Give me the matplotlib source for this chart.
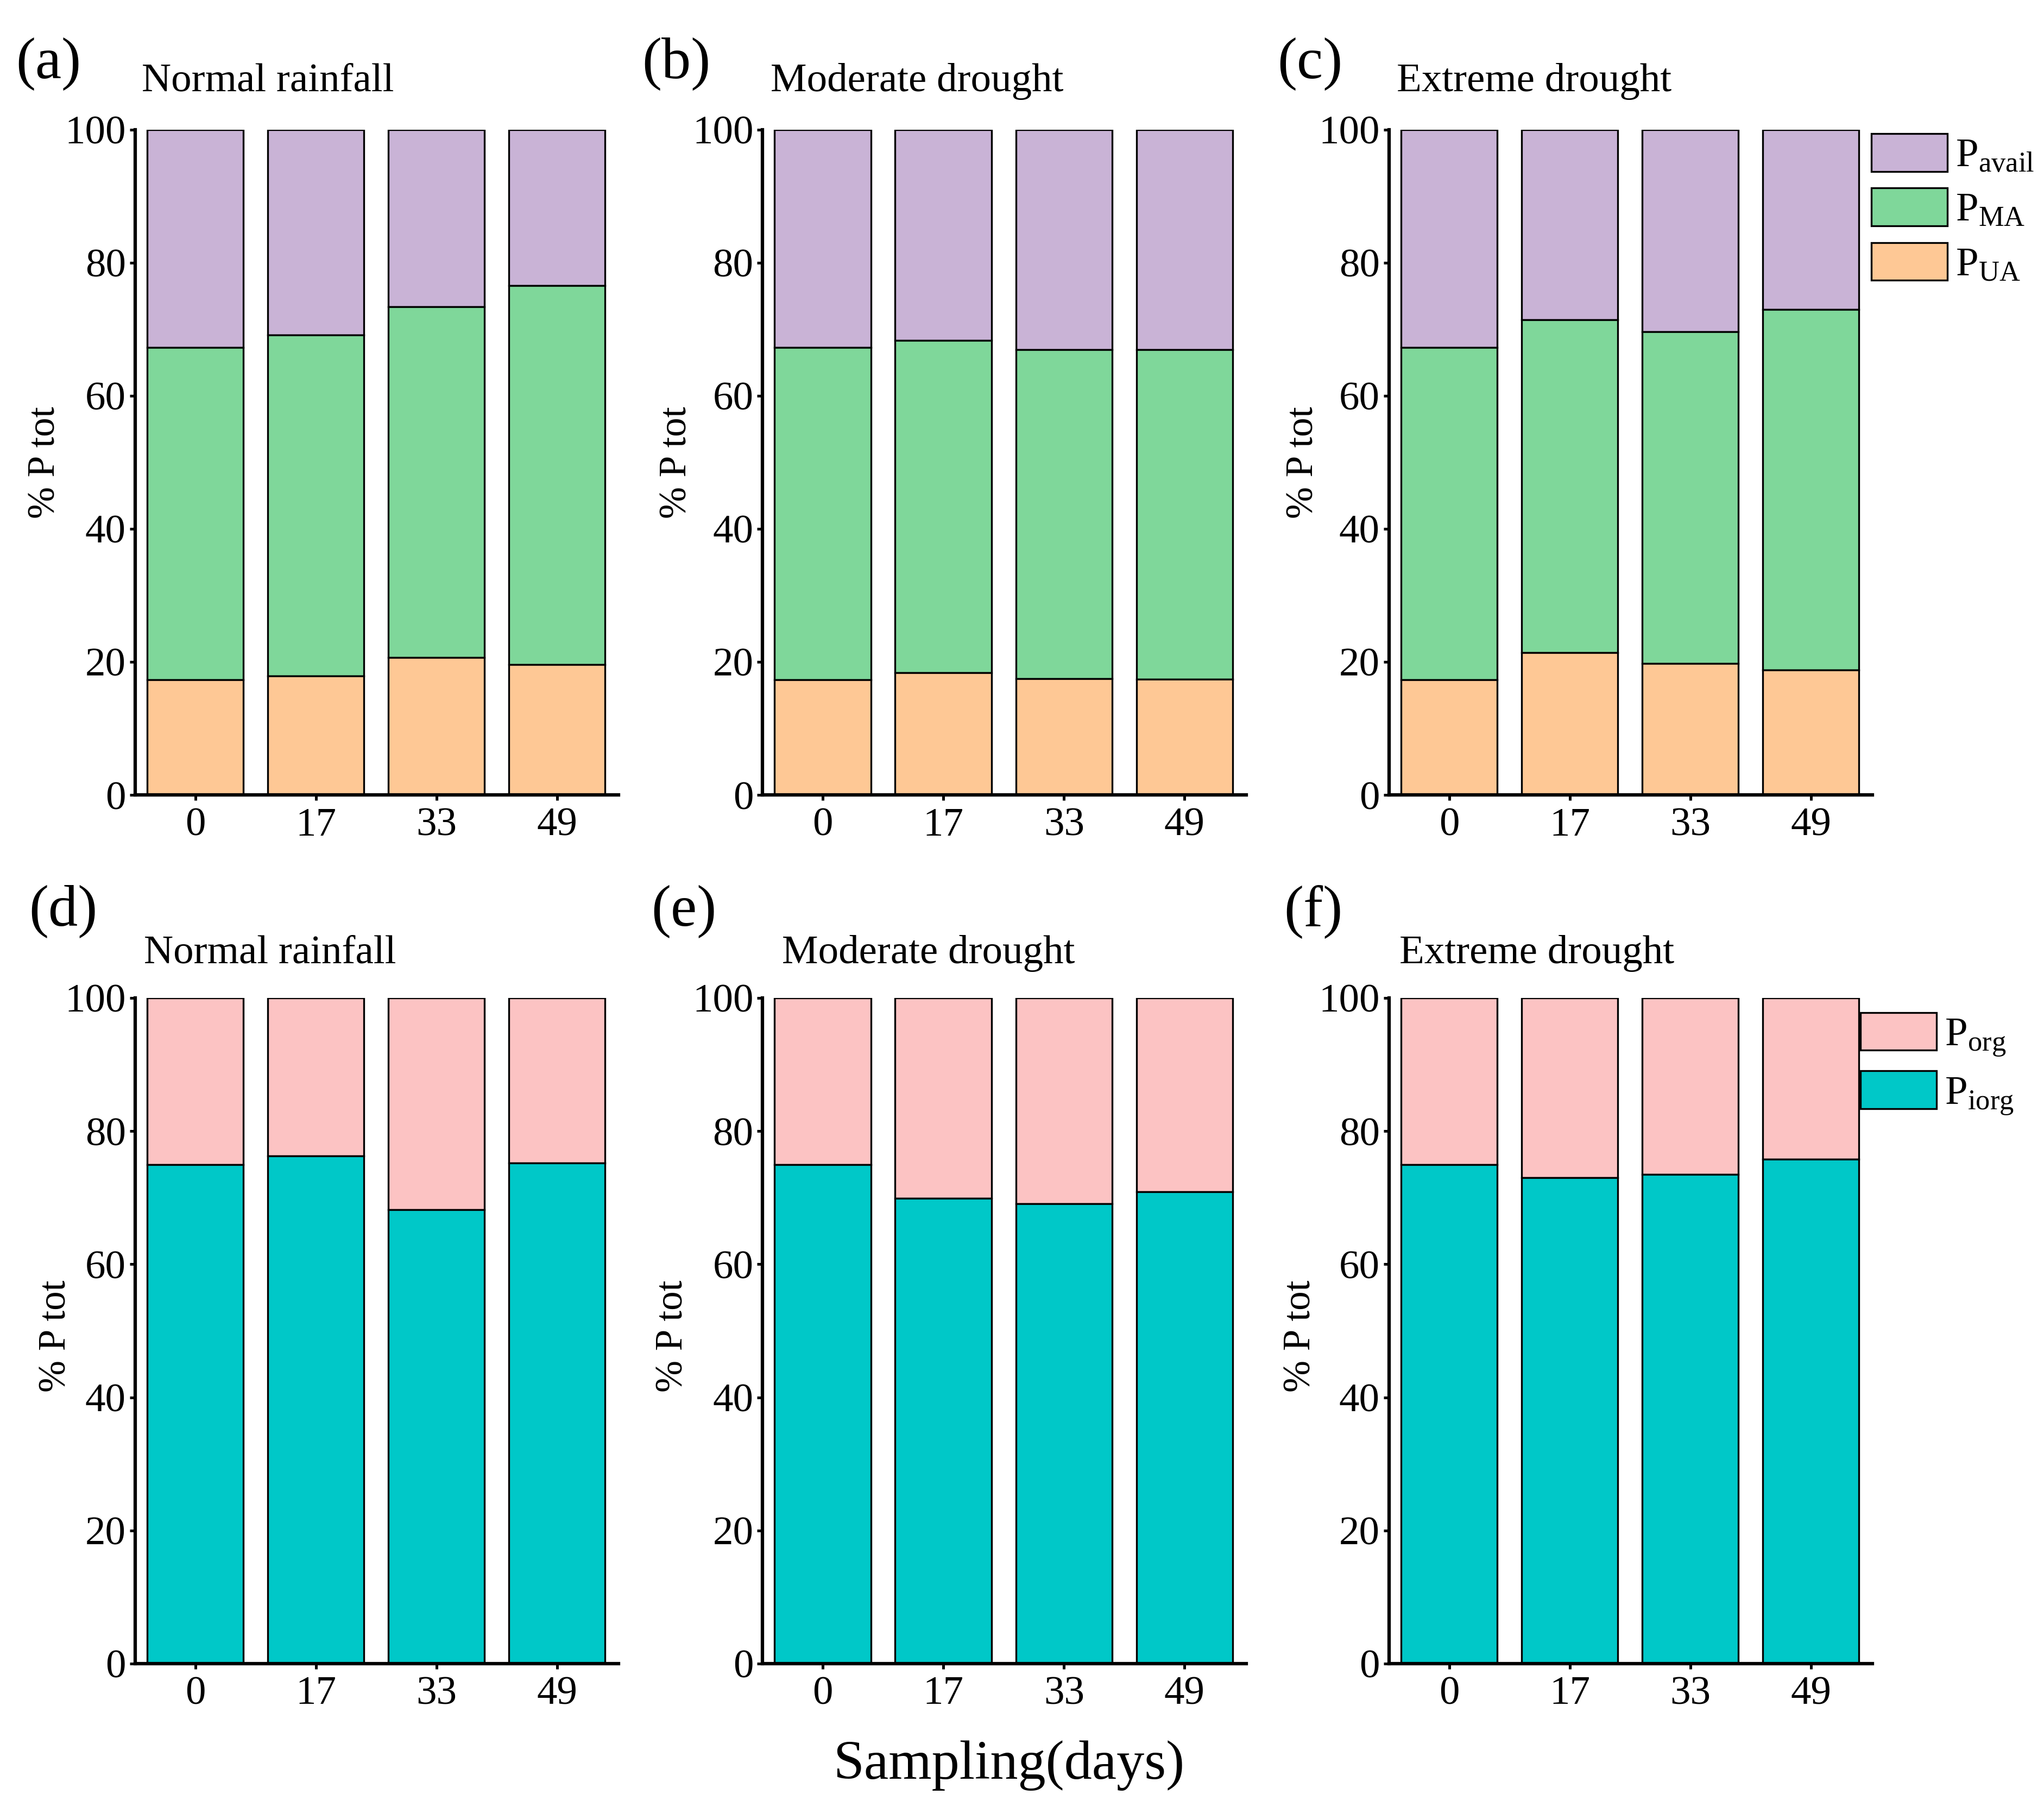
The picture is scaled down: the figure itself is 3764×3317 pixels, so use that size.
import matplotlib
matplotlib.use("Agg")
import matplotlib.pyplot as plt
import numpy as np

plt.rcParams['font.family'] = ['Liberation Serif', 'DejaVu Serif']
plt.rcParams['mathtext.fontset'] = 'custom'
plt.rcParams['mathtext.rm'] = 'Liberation Serif'
plt.rcParams['mathtext.it'] = 'Liberation Serif:italic'

# ---------------- data ----------------
days = ["0", "17", "33", "49"]
conditions = ["Normal rainfall", "Moderate drought", "Extreme drought"]

# top row: P fractions (% of total P)
p_ua_normal = [17.3, 17.9, 20.7, 19.6]
p_ma_normal = [50.0, 51.2, 52.7, 57.0]
p_ua_moderate = [17.3, 18.4, 17.5, 17.4]
p_ma_moderate = [50.0, 49.9, 49.4, 49.5]
p_ua_extreme = [17.3, 21.4, 19.8, 18.8]
p_ma_extreme = [50.0, 50.0, 49.8, 54.2]

# bottom row: inorganic P (% of total P); organic = remainder
p_iorg_normal = [75.0, 76.3, 68.2, 75.2]
p_iorg_moderate = [75.0, 69.9, 69.1, 70.9]
p_iorg_extreme = [75.0, 73.0, 73.5, 75.8]

panel_labels_top = ["(a)", "(b)", "(c)"]
panel_labels_bottom = ["(d)", "(e)", "(f)"]
legend_top = [r"$\mathrm{P_{avail}}$", r"$\mathrm{P_{MA}}$", r"$\mathrm{P_{UA}}$"]
legend_bottom = [r"$\mathrm{P_{org}}$", r"$\mathrm{P_{iorg}}$"]

# ---------------- style ----------------
c_avail = "#C9B3D6"
c_ma = "#7FD79A"
c_ua = "#FEC895"
c_org = "#FCC3C3"
c_iorg = "#00C8C8"

W, H = 1560.0, 1375.0
def fx(p): return p / W
def fy(p): return 1 - p / H

fig = plt.figure(figsize=(3764 / 300, 3317 / 300), dpi=300)

col_left = [103, 582, 1060]
ax_w = 369
row_top = [99, 762]
ax_h = 508

def style_axes(ax):
    for s in ["top", "right"]:
        ax.spines[s].set_visible(False)
    for s in ["left", "bottom"]:
        ax.spines[s].set_linewidth(1.5)
    ax.set_xlim(-0.5, 3.51)
    ax.set_ylim(0, 100)
    ax.set_yticks([0, 20, 40, 60, 80, 100])
    ax.set_xticks(range(len(days)))
    ax.set_xticklabels(days)
    ax.tick_params(axis="y", length=2.5, width=1.2, pad=1.5, labelsize=18)
    ax.tick_params(axis="x", length=2.5, width=1.2, pad=3, labelsize=18)
    ax.set_ylabel("% P tot", fontsize=17)

x = np.arange(len(days))
bw = 0.8
ek = dict(edgecolor="black", linewidth=0.8)

top_data = [(p_ua_normal, p_ma_normal), (p_ua_moderate, p_ma_moderate), (p_ua_extreme, p_ma_extreme)]
bottom_data = [p_iorg_normal, p_iorg_moderate, p_iorg_extreme]

top_title_x = [108, 588, 1066]
top_label_x = [12, 490, 975]
top_ylab_x = [48, 530, 1008]
bot_title_x = [110, 597, 1068]
bot_label_x = [22, 497, 980]
bot_ylab_x = [56, 527, 1006]

leg_kw = dict(loc="upper left", frameon=False, fontsize=18, borderpad=0, borderaxespad=0,
              handlelength=1.87, handleheight=1.05, handletextpad=0.2, labelspacing=0.32)

axes_top = []
for i, (ua, ma) in enumerate(top_data):
    ax = fig.add_axes([fx(col_left[i]), fy(row_top[0] + ax_h), ax_w / W, ax_h / H])
    ua = np.array(ua); ma = np.array(ma)
    avail = 100 - ua - ma
    b3 = ax.bar(x, avail, bw, bottom=ua + ma, color=c_avail, **ek)
    b2 = ax.bar(x, ma, bw, bottom=ua, color=c_ma, **ek)
    b1 = ax.bar(x, ua, bw, color=c_ua, **ek)
    style_axes(ax)
    ax.yaxis.set_label_coords(fx(top_ylab_x[i]), fy(353), transform=fig.transFigure)
    fig.text(fx(top_title_x[i]), fy(62), conditions[i], fontsize=18, ha="left", va="center")
    fig.text(fx(top_label_x[i]), fy(49), panel_labels_top[i], fontsize=26, ha="left", va="center")
    axes_top.append((ax, (b3, b2, b1)))

ax_c, handles = axes_top[2]
fig.legend(handles, legend_top, bbox_to_anchor=(fx(1428), fy(102)), **leg_kw)

for i, iorg in enumerate(bottom_data):
    ax = fig.add_axes([fx(col_left[i]), fy(row_top[1] + ax_h), ax_w / W, ax_h / H])
    iorg = np.array(iorg)
    org = 100 - iorg
    b2 = ax.bar(x, org, bw, bottom=iorg, color=c_org, **ek)
    b1 = ax.bar(x, iorg, bw, color=c_iorg, **ek)
    style_axes(ax)
    ax.yaxis.set_label_coords(fx(bot_ylab_x[i]), fy(1020), transform=fig.transFigure)
    fig.text(fx(bot_title_x[i]), fy(728), conditions[i], fontsize=18, ha="left", va="center")
    fig.text(fx(bot_label_x[i]), fy(696), panel_labels_bottom[i], fontsize=26, ha="left", va="center")
    if i == 2:
        fig.legend((b2, b1), legend_bottom, bbox_to_anchor=(fx(1420), fy(773)), **leg_kw)

fig.text(fx(770), fy(1348), "Sampling(days)", fontsize=24.5, ha="center", va="center")

fig.savefig("out.png", dpi=300)
